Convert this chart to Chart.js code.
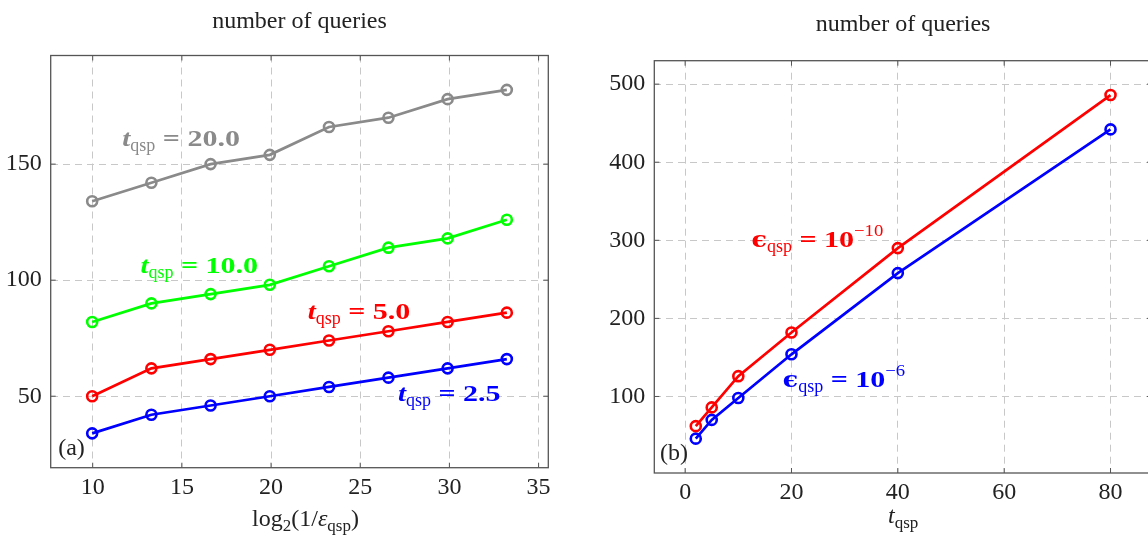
<!DOCTYPE html>
<html>
<head>
<meta charset="utf-8">
<script src="https://cdn.jsdelivr.net/npm/chart.js@4.4.0/dist/chart.umd.min.js"></script>
<style>
html, body { margin: 0; padding: 0; background: #fff; overflow: hidden; width: 1148px; height: 537px; }
#wrapA { position: absolute; left: 0; top: 0; }
#wrapB { position: absolute; left: 590px; top: 0; }
</style>
</head>
<body>
<div id="wrapA"><canvas id="chartA" width="570" height="537"></canvas></div>
<div id="wrapB"><canvas id="chartB" width="580" height="537"></canvas></div>
<script>
'use strict';

// (a) number of queries vs log2(1/eps_qsp), eps = 1e-3 ... 1e-10
const epsLog2 = [9.97, 13.29, 16.61, 19.93, 23.25, 26.58, 29.9, 33.22];
const queriesT25 = [34, 42, 46, 50, 54, 58, 62, 66];
const queriesT5 = [50, 62, 66, 70, 74, 78, 82, 86];
const queriesT10 = [82, 90, 94, 98, 106, 114, 118, 126];
const queriesT20 = [134, 142, 150, 154, 166, 170, 178, 182];
const xTicksA = [10, 15, 20, 25, 30, 35];
const yTicksA = [50, 100, 150];

// (b) number of queries vs t_qsp
const tQsp = [2, 5, 10, 20, 40, 80];
const queriesEps10 = [62, 86, 126, 182, 290, 486];
const queriesEps6 = [46, 70, 98, 154, 258, 442];
const xTicksB = [0, 20, 40, 60, 80];
const yTicksB = [100, 200, 300, 400, 500];

const SERIF = '"Liberation Serif", "DejaVu Serif", serif';
const INK = '#222';

// draws a run of text pieces centred on x: [text, font, dy, xscale]
function drawRich(ctx, parts, x, y) {
    let w = 0;
    parts.forEach(p => { ctx.font = p[1]; w += ctx.measureText(p[0]).width * (p[3] || 1); });
    let cx = x - w / 2;
    parts.forEach(p => {
        const sx = p[3] || 1;
        ctx.font = p[1];
        ctx.save();
        ctx.translate(cx, y + (p[2] || 0));
        ctx.scale(sx, 1);
        ctx.fillText(p[0], 0, 0);
        ctx.restore();
        cx += ctx.measureText(p[0]).width * sx;
    });
}

function tLabel(val) {
    return [
        ['t', 'italic bold 24px ' + SERIF, 0, 1.2],
        ['qsp', '18px ' + SERIF, 5],
        [' = ' + val, 'bold 24px ' + SERIF, 0, 1.25]
    ];
}

function epsLabel(exp) {
    return [
        ['\u03f5', 'bold 23px "DejaVu Serif", serif', 0, 1.1],
        ['qsp', '18px ' + SERIF, 5],
        [' = 10', 'bold 24px ' + SERIF, 0, 1.25],
        ['\u2212' + exp, '17px ' + SERIF, -11, 1.1]
    ];
}

function decor(cfg) {
    return {
        id: 'decor',
        afterDraw(chart) {
            const { ctx, chartArea: a, scales: { x, y } } = chart;
            ctx.save();
            ctx.setLineDash([]);
            ctx.strokeStyle = '#555';
            ctx.lineWidth = 1;
            ctx.beginPath();
            cfg.xTicks.forEach(v => {
                const px = x.getPixelForValue(v);
                ctx.moveTo(px, a.bottom); ctx.lineTo(px, a.bottom - 5);
                ctx.moveTo(px, a.top); ctx.lineTo(px, a.top + 5);
            });
            cfg.yTicks.forEach(v => {
                const py = y.getPixelForValue(v);
                ctx.moveTo(a.left, py); ctx.lineTo(a.left + 5, py);
                ctx.moveTo(a.right, py); ctx.lineTo(a.right - 5, py);
            });
            ctx.stroke();
            ctx.lineWidth = 1.3;
            ctx.strokeRect(a.left, a.top, a.right - a.left, a.bottom - a.top);

            ctx.textBaseline = 'alphabetic';
            ctx.textAlign = 'left';
            ctx.fillStyle = INK;
            const mid = (a.left + a.right) / 2;
            drawRich(ctx, [['number of queries', '24px ' + SERIF]], mid, cfg.titleY);
            drawRich(ctx, cfg.xLabel, mid + cfg.xLabelShift, cfg.xLabelY);
            cfg.notes.forEach(n => {
                ctx.fillStyle = n.color;
                drawRich(ctx, n.parts, x.getPixelForValue(n.x), y.getPixelForValue(n.y));
            });
            ctx.restore();
        }
    };
}

function axis(min, max, tickValues, padding, fit) {
    return {
        type: 'linear',
        min: min,
        max: max,
        bounds: 'data',
        afterBuildTicks: s => { s.ticks = tickValues.map(v => ({ value: v })); },
        afterFit: fit,
        grid: { color: '#c8c8c8', lineWidth: 1, drawTicks: false },
        border: { display: false, dash: [7, 5] },
        ticks: {
            font: { family: SERIF, size: 24 },
            color: INK,
            padding: padding,
            maxRotation: 0,
            autoSkip: false,
            callback: v => String(v)
        }
    };
}

function series(xs, ys, color) {
    return {
        data: xs.map((x, i) => ({ x: x, y: ys[i] })),
        borderColor: color,
        backgroundColor: 'transparent',
        borderWidth: 2.7,
        pointRadius: 5,
        pointBorderWidth: 2.6,
        pointBorderColor: color,
        pointBackgroundColor: 'transparent',
        tension: 0
    };
}

const baseOptions = {
    responsive: false,
    animation: false,
    plugins: { legend: { display: false }, tooltip: { enabled: false } }
};

new Chart(document.getElementById('chartA'), {
    type: 'line',
    data: {
        datasets: [
            series(epsLog2, queriesT20, '#8a8a8a'),
            series(epsLog2, queriesT10, '#00ff00'),
            series(epsLog2, queriesT5, '#ff0000'),
            series(epsLog2, queriesT25, '#0000ff')
        ]
    },
    options: Object.assign({}, baseOptions, {
        layout: { padding: { top: 55.5, right: 21.7, left: 0, bottom: 0 } },
        scales: {
            x: axis(7.645, 35.545, xTicksA, 6, s => { s.height = 69.3; }),
            y: axis(19.2, 196.8, yTicksA, 9, s => { s.width = 50.7; })
        }
    }),
    plugins: [decor({
        xTicks: xTicksA,
        yTicks: yTicksA,
        titleY: 27.5,
        xLabelY: 526,
        xLabelShift: 6,
        xLabel: [
            ['log', '24px ' + SERIF],
            ['2', '17px ' + SERIF, 5],
            ['(1/', '24px ' + SERIF],
            ['\u03b5', 'italic 24px ' + SERIF],
            ['qsp', '17px ' + SERIF, 5],
            [')', '24px ' + SERIF]
        ],
        notes: [
            { x: 14.96, y: 157.8, color: '#8a8a8a', parts: tLabel('20.0') },
            { x: 15.97, y: 103.1, color: '#00ff00', parts: tLabel('10.0') },
            { x: 24.93, y: 83.3, color: '#ff0000', parts: tLabel('5.0') },
            { x: 29.99, y: 47.9, color: '#0000ff', parts: tLabel('2.5') },
            { x: 8.81, y: 24.7, color: INK, parts: [['(a)', '24px ' + SERIF]] }
        ]
    })]
});

new Chart(document.getElementById('chartB'), {
    type: 'line',
    data: {
        datasets: [
            series(tQsp, queriesEps10, '#ff0000'),
            series(tQsp, queriesEps6, '#0000ff')
        ]
    },
    options: Object.assign({}, baseOptions, {
        layout: { padding: { top: 60.7, right: 18, left: 0, bottom: 0 } },
        scales: {
            x: axis(-5.8, 87.8, xTicksB, 5, s => { s.height = 64; }),
            y: axis(2, 530, yTicksB, 9, s => { s.width = 64.3; })
        }
    }),
    plugins: [decor({
        xTicks: xTicksB,
        yTicks: yTicksB,
        titleY: 30.7,
        xLabelY: 523,
        xLabelShift: 0,
        xLabel: [
            ['t', 'italic 24px ' + SERIF],
            ['qsp', '17px ' + SERIF, 5]
        ],
        notes: [
            { x: 24.88, y: 291.4, color: '#ff0000', parts: epsLabel('10') },
            { x: 29.88, y: 112.1, color: '#0000ff', parts: epsLabel('6') },
            { x: -2.1, y: 18.6, color: INK, parts: [['(b)', '24px ' + SERIF]] }
        ]
    })]
});
</script>
</body>
</html>
